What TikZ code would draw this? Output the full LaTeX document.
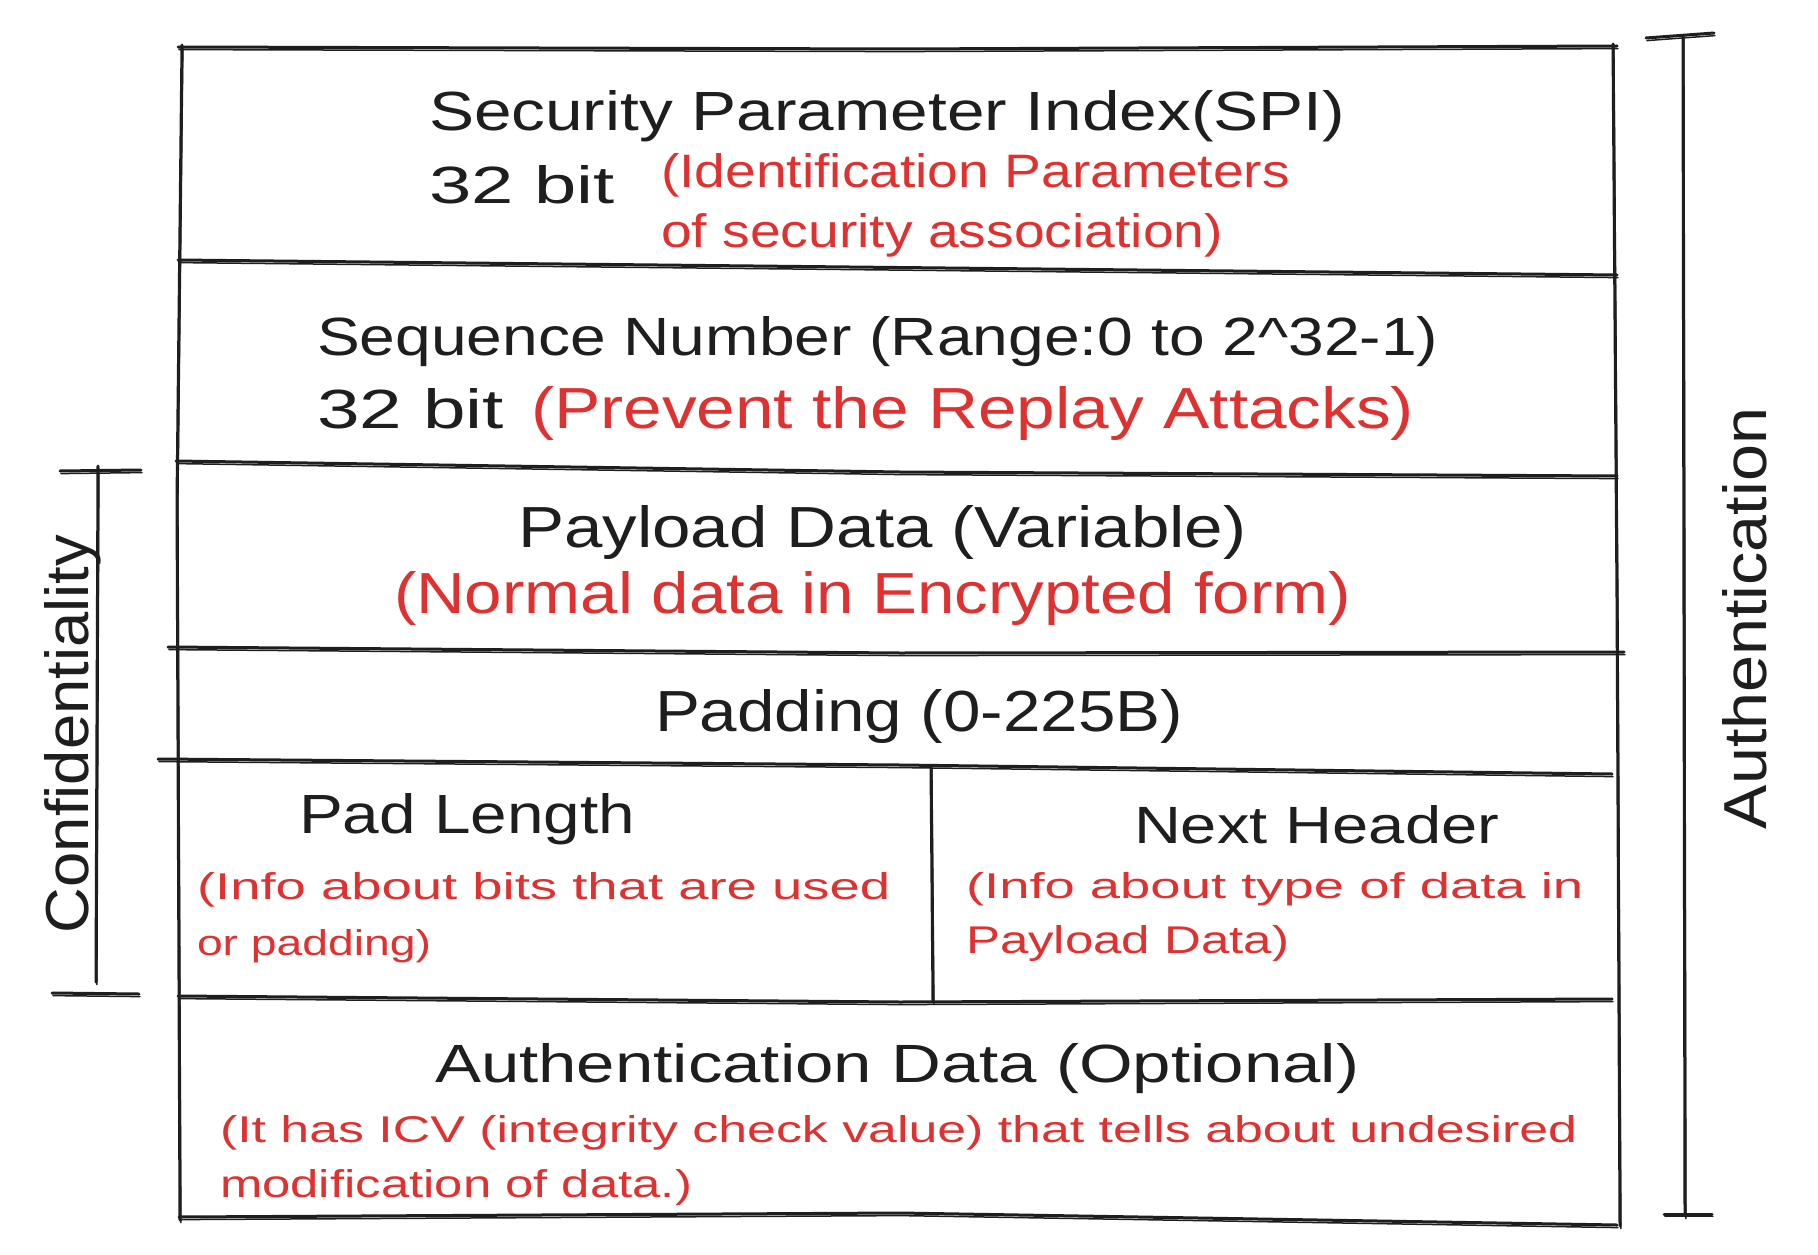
\documentclass[tikz,border=0pt]{standalone}
\usepackage{fontspec}
\setmainfont{Liberation Sans}
\usepackage{graphicx}
\definecolor{ink}{HTML}{1E1E1E}
\definecolor{redink}{HTML}{E03131}
\newcommand{\fwh}[3]{\resizebox{#1pt}{#2pt}{#3}}
\newcommand{\skline}[1]{\draw[skmain] #1; \draw[skthin,shift={(0.9,2.6)}] #1;}
\tikzset{
  skmain/.style={draw=ink,line width=3pt,line cap=round,line join=round},
  skthin/.style={draw=ink,line width=1.5pt,line cap=round,line join=round},
  blk/.style={inner sep=0pt,outer sep=0pt,text=ink,anchor=base west},
  rd/.style={inner sep=0pt,outer sep=0pt,text=redink,anchor=base west},
}
\begin{document}
\begin{tikzpicture}[x=1pt,y=-1pt]
\useasboundingbox (0,0) rectangle (1818,1255);
\fill[white] (0,0) rectangle (1818,1255);

% outer frame
\skline{(182,45) -- (177,500) -- (180,1220)}
\skline{(1613,44) -- (1617,600) -- (1620,1226)}
\skline{(178,47) -- (900,49) -- (1617,46)}
\skline{(179,1217) -- (900,1213) -- (1617,1225)}
% row dividers
\skline{(178,260) -- (1617,275)}
\skline{(176,461) -- (900,472) -- (1617,476)}
\skline{(168,647) -- (900,653) -- (1624,652)}
\skline{(158,759) -- (900,765) -- (1612,774)}
\skline{(178,996) -- (900,1002) -- (1612,999)}
% vertical divider
\skline{(931,767) -- (933,1001)}

% Authentication bracket
\skline{(1683,36) -- (1685,1216)}
\skline{(1646,38) -- (1714,33)}
\skline{(1664,1214) -- (1712,1214)}
% Confidentiality bracket
\skline{(98,466) -- (96,982)}
\skline{(60,471) -- (141,470)}
\skline{(52,993) -- (139,994)}

% texts
\node[blk] (spi) at (429,131) {\fwh{916}{40}{Security Parameter Index(SPI)}};
\node[blk] (spibits) at (429,203) {\fwh{186}{38}{32 bit}};
\node[rd] (spinoteA) at (661,187) {\fwh{629}{34}{(Identification Parameters}};
\node[rd] (spinoteB) at (661,247) {\fwh{562}{34}{of security association)}};

\node[blk] (seq) at (317,355) {\fwh{1121}{39}{Sequence Number (Range:0 to 2\textasciicircum32-1)}};
\node[blk] (seqbits) at (317,428) {\fwh{187}{40}{32 bit}};
\node[rd] (seqnote) at (531,428) {\fwh{883}{42}{(Prevent the Replay Attacks)}};

\node[blk] (pay) at (518,547) {\fwh{728}{42}{Payload Data (Variable)}};
\node[rd] (paynote) at (394,613) {\fwh{957}{42}{(Normal data in Encrypted form)}};

\node[blk] (pad) at (655,731) {\fwh{528}{42}{Padding (0-225B)}};

\node[blk] (padlen) at (299,833) {\fwh{336}{40}{Pad Length}};
\node[rd] (padlennoteA) at (197,899) {\fwh{693}{27}{(Info about bits that are used}};
\node[rd] (padlennoteB) at (197,955) {\fwh{234}{26}{or padding)}};

\node[blk] (nxt) at (1134,843) {\fwh{365}{38}{Next Header}};
\node[rd] (nxtnoteA) at (966,898) {\fwh{617}{26}{(Info about type of data in}};
\node[rd] (nxtnoteB) at (966,953) {\fwh{323}{28}{Payload Data)}};

\node[blk] (auth) at (435,1082) {\fwh{924}{39}{Authentication Data (Optional)}};
\node[rd] (authnoteA) at (220,1142) {\fwh{1357}{27}{(It has ICV (integrity check value) that tells about undesired}};
\node[rd] (authnoteB) at (220,1197) {\fwh{472}{28}{modification of data.)}};

\node[blk,rotate=90] (conf) at (88,933) {\fwh{398}{44}{Confidentiality}};
\node[blk,rotate=90] (authlbl) at (1766,829) {\fwh{421}{44}{Authentication}};
\end{tikzpicture}
\end{document}
